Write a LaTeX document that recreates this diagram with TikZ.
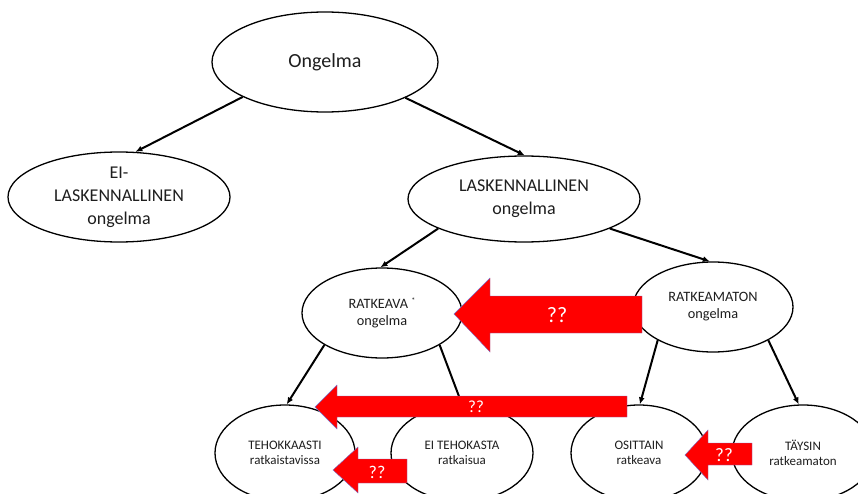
\documentclass[tikz,border=0pt]{standalone}
\usepackage{fontspec}
\setmainfont{Carlito}
\usetikzlibrary{shapes.geometric,arrows.meta}
\definecolor{txt}{RGB}{30,30,30}
\definecolor{arrred}{RGB}{255,0,0}
\definecolor{arrline}{RGB}{120,110,200}
\begin{document}
\begin{tikzpicture}[x=1pt,y=-1pt,
  prob/.style={ellipse, draw=black, line width=1.3pt, fill=white, inner sep=0pt,
               align=center, text=txt},
  link/.style={line width=2pt, -{Latex[length=7pt,width=6pt]}},
  redarrow/.style={fill=arrred, draw=arrline, line width=0.4pt},
  qq/.style={text=white, inner sep=0pt},
  fbig/.style={font=\fontsize{20}{24}\selectfont},
  fmid/.style={font=\fontsize{18}{23}\selectfont},
  fsml/.style={font=\fontsize{14.3}{17}\selectfont},
  ftin/.style={font=\fontsize{13}{15.5}\selectfont}]
\useasboundingbox (0,0) rectangle (858,494);
\clip (0,0) rectangle (858,494);

% problem classes
\node[prob, fbig, minimum width=226pt, minimum height=100pt] (ong) at (325,62) {Ongelma};
\node[prob, fmid, minimum width=222pt, minimum height=90pt] (eil) at (119,197) {EI-\\LASKENNALLINEN\\ongelma};
\node[prob, fmid, minimum width=232pt, minimum height=86pt] (las) at (524,199) {LASKENNALLINEN\\ongelma};
\node[prob, fsml, minimum width=160pt, minimum height=90pt] (rat) at (382,313)
  {RATKEAVA {\fontsize{8}{8}\selectfont\raisebox{5pt}{*}}\\ongelma};
\node[prob, fsml, minimum width=160pt, minimum height=90pt] (ram) at (713,307) {RATKEAMATON\\ongelma};
\node[prob, ftin, minimum width=140pt, minimum height=96pt] (teh) at (285,453) {TEHOKKAASTI\\ratkaistavissa};
\node[prob, ftin, minimum width=142pt, minimum height=96pt] (eit) at (462,453) {EI TEHOKASTA\\ratkaisua};
\node[prob, ftin, minimum width=136pt, minimum height=96pt] (osi) at (639,453) {OSITTAIN\\ratkeava};
\node[prob, ftin, minimum width=142pt, minimum height=96pt] (tay) at (803,453) {TÄYSIN\\ratkeamaton};

% hierarchy
\draw[link] (ong.203.7) -- (eil.70);
\draw[link] (ong.-24.2) -- (las.89);
\draw[link] (las.199.7) -- (rat.92);
\draw[link] (las.-19) -- (ram.94);
\draw[link] (rat.209) -- (teh.88);
\draw[link] (rat.-29.5) -- (eit.90);
\draw[link] (ram.211) -- (osi.89);
\draw[link] (ram.-31.5) -- (tay.95);

% reduction arrows
\draw[redarrow] (454,314) -- (490,278) -- (490,296) -- (642,296) -- (642,333)
  -- (490,333) -- (490,352) -- cycle;
\node[qq, font=\fontsize{22}{26}\selectfont] (q1) at (557,315) {??};

\draw[redarrow] (315,407) -- (337,385) -- (337,396) -- (627,396) -- (627,417)
  -- (337,417) -- (337,429) -- cycle;
\node[qq, font=\fontsize{17}{20}\selectfont] (q2) at (476,407) {??};

\draw[redarrow] (333,470) -- (358,447) -- (358,459) -- (407,459) -- (407,483)
  -- (358,483) -- (358,493) -- cycle;
\node[qq, font=\fontsize{18}{21}\selectfont] (q3) at (377,472) {??};

\draw[redarrow] (685,455) -- (708,430) -- (708,443) -- (752,443) -- (752,465)
  -- (708,465) -- (708,480) -- cycle;
\node[qq, font=\fontsize{19}{22}\selectfont] (q4) at (724,455) {??};
\end{tikzpicture}
\end{document}
